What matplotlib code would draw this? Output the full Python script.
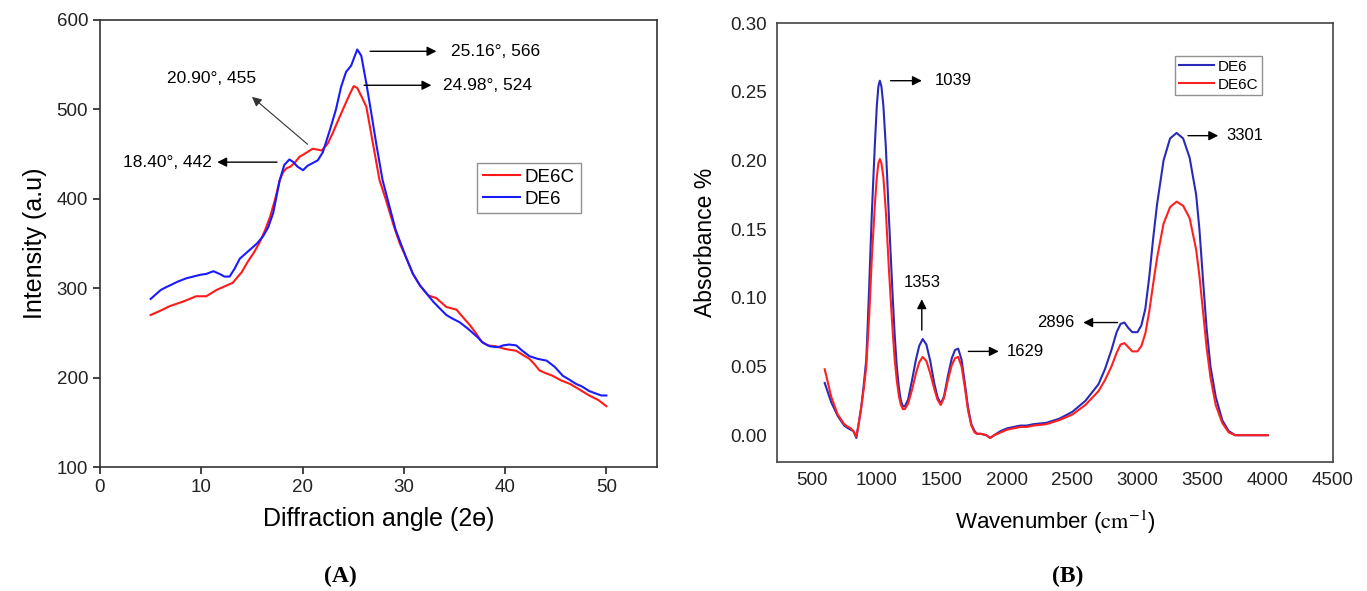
import matplotlib
matplotlib.use("Agg")
import matplotlib.pyplot as plt

plt.rcParams['font.family'] = ['Liberation Sans', 'DejaVu Sans']
plt.rcParams['mathtext.fontset'] = 'stix'

# ---------------- XRD data (panel A) ----------------
xrd_de6c_x = [5, 6, 6.9, 8.2, 9.5, 10.5, 11.5, 12.5, 13.1, 14,
              14.5, 15.2, 15.8, 16.3, 16.8, 17.3, 17.75, 18.1, 18.4, 18.8,
              19.2, 19.7, 20.3, 21.0, 21.5, 21.9, 22.5, 23.0, 23.6, 24.3,
              24.7, 25.05, 25.4, 25.8, 26.3, 26.9, 27.6, 28.2, 29.0, 29.6,
              30.2, 30.9, 31.6, 32.4, 33.2, 34.2, 35.2, 35.8, 36.5, 37.1,
              37.7, 38.3, 39.1, 40.0, 41.1, 41.8, 42.4, 42.9, 43.4, 44.0,
              44.7, 45.5, 46.4, 47.3, 48.3, 49.2, 50]
xrd_de6c_y = [270, 275, 280, 285, 291, 291, 298, 303, 306, 318,
              328, 340, 352, 365, 380, 400, 421, 430, 434, 436,
              440, 447, 451, 456, 455, 454, 462, 474, 490, 508,
              518, 526, 524, 515, 503, 465, 421, 400, 370, 350,
              335, 316, 303, 292, 289, 279, 276, 268, 259, 250,
              240, 236, 235, 232, 230, 225, 221, 215, 208, 205,
              202, 197, 193, 187, 180, 175, 168]

xrd_de6_x = [5, 5.5, 6, 6.5, 7.07, 7.6, 8.5, 9.2, 9.9, 10.5,
             11.2, 11.8, 12.3, 12.8, 13.3, 13.8, 14.5, 15.0, 15.5, 16.1,
             16.6, 17.1, 17.75, 18.2, 18.7, 19.1, 19.5, 20.05, 20.5, 21.0,
             21.5, 22.0, 22.7, 23.3, 23.8, 24.3, 24.8, 25.1, 25.4, 25.8,
             26.3, 26.8, 27.3, 27.9, 28.5, 29.2, 30.2, 30.9, 31.6, 32.4,
             32.9, 33.5, 34.2, 34.8, 35.5, 36.3, 36.8, 37.3, 37.8, 38.5,
             39.3, 39.8, 40.4, 41.1, 41.7, 42.4, 43.2, 44.1, 44.9, 45.7,
             46.3, 47.0, 47.6, 48.3, 49.0, 49.5, 50]
xrd_de6_y = [288, 293, 298, 301, 304, 307, 311, 313, 315, 316,
             319, 316, 313, 313, 322, 333, 340, 345, 350, 358,
             368, 384, 421, 438, 444, 441, 436, 432, 437, 440,
             443, 452, 477, 500, 525, 542, 549, 558, 567, 560,
             529, 495, 460, 421, 395, 365, 335, 316, 303, 292,
             285, 278, 270, 266, 262, 255, 250, 245, 239, 235,
             234, 236, 237, 236, 230, 224, 221, 219, 212, 202,
             198, 193, 190, 185, 182, 180, 180]

xrd_xticks = [0, 10, 20, 30, 40, 50]
xrd_yticks = [100, 200, 300, 400, 500, 600]

# ---------------- FTIR data (panel B) ----------------
ftir_wn = [600, 650, 700, 750, 780, 800, 820, 843, 860, 880,
           900, 919, 930, 942, 961, 985, 1000, 1012, 1023, 1035,
           1050, 1069, 1092, 1107, 1122, 1137, 1153, 1170, 1185, 1200,
           1215, 1240, 1270, 1300, 1325, 1352, 1380, 1410, 1440, 1465,
           1490, 1515, 1545, 1575, 1600, 1624, 1650, 1675, 1700, 1725,
           1750, 1770, 1800, 1840, 1870, 1900, 1950, 2000, 2050, 2100,
           2150, 2200, 2300, 2400, 2500, 2600, 2700, 2750, 2800, 2840,
           2870, 2900, 2930, 2960, 3000, 3030, 3060, 3090, 3120, 3150,
           3200, 3250, 3300, 3350, 3400, 3450, 3475, 3505, 3530, 3560,
           3600, 3650, 3700, 3750, 3800, 3900, 4000]
ftir_de6 = [.038, .024, .014, .007, .005, .004, .003, -.002, .008, .020,
            .037, .055, .080, .110, .160, .212, .240, .254, .258, .254,
            .240, .210, .160, .130, .100, .073, .050, .034, .025, .021,
            .021, .026, .040, .055, .065, .070, .066, .054, .038, .028,
            .023, .028, .043, .056, .062, .063, .055, .038, .020, .008,
            .003, .001, .001, .000, -.002, .000, .003, .005, .006, .007,
            .007, .008, .009, .012, .017, .025, .037, .048, .062, .075,
            .081, .082, .078, .075, .075, .080, .092, .115, .143, .168,
            .200, .216, .220, .216, .202, .175, .150, .110, .078, .050,
            .028, .011, .003, .000, .000, .000, .000]
ftir_de6c = [.048, .028, .015, .008, .006, .005, .003, -.001, .008, .020,
             .034, .050, .068, .088, .128, .168, .188, .198, .201, .198,
             .188, .163, .122, .098, .075, .055, .040, .028, .022, .019,
             .019, .023, .033, .045, .053, .057, .054, .045, .034, .026,
             .022, .027, .040, .051, .056, .057, .050, .035, .018, .007,
             .002, .001, .001, .000, -.002, .000, .002, .004, .005, .006,
             .006, .007, .008, .011, .015, .022, .032, .040, .050, .060,
             .066, .067, .064, .061, .061, .065, .074, .090, .110, .129,
             .154, .166, .170, .167, .158, .135, .116, .088, .064, .042,
             .022, .009, .002, .000, .000, .000, .000]

ftir_xticks = [500, 1000, 1500, 2000, 2500, 3000, 3500, 4000, 4500]
ftir_yticks = [0.00, 0.05, 0.10, 0.15, 0.20, 0.25, 0.30]

# ---------------- Figure ----------------
fig = plt.figure(figsize=(13.67, 5.91), dpi=100)
W, H = 1367, 591

def box(l, t, r, b):
    return [l / W, 1 - b / H, (r - l) / W, (b - t) / H]

axA = fig.add_axes(box(100, 20, 657, 467))
axB = fig.add_axes(box(777, 23, 1333, 462))

# Panel A
axA.plot(xrd_de6c_x, xrd_de6c_y, color='#ff1a1a', lw=1.5, label='DE6C')
axA.plot(xrd_de6_x, xrd_de6_y, color='#1a1aff', lw=1.5, label='DE6')
axA.set_xlim(0, 55)
axA.set_ylim(100, 600)
axA.set_xticks(xrd_xticks)
axA.set_yticks(xrd_yticks)
axA.tick_params(direction='out', length=5, width=1.2, labelsize=13.5, colors='#222222')
for s in axA.spines.values():
    s.set_linewidth(1.2)
    s.set_color('#333333')
axA.set_xlabel('Diffraction angle (2ɵ)', fontsize=18, labelpad=8)
axA.set_ylabel('Intensity (a.u)', fontsize=18, labelpad=7)
legA = axA.legend(loc='upper left', bbox_to_anchor=(0.677, 0.68), fontsize=13.5,
                  frameon=True, fancybox=False, handlelength=2.0,
                  borderpad=0.3, labelspacing=0.25, handletextpad=0.25, borderaxespad=0)
legA.get_frame().set_edgecolor('#777777')
legA.get_frame().set_linewidth(1.0)

arrow = dict(arrowstyle='-|>', color='black', lw=1.0, mutation_scale=14)
arrow_thin = dict(arrowstyle='-|>', color='#333333', lw=0.8, mutation_scale=14)
axA.annotate('', xy=(33.5, 565), xytext=(26.4, 565), arrowprops=arrow)
axA.text(34.7, 565, '25.16°, 566', fontsize=12.5, va='center', ha='left')
axA.annotate('', xy=(33.0, 527), xytext=(25.8, 527), arrowprops=arrow)
axA.text(33.9, 527, '24.98°, 524', fontsize=12.5, va='center', ha='left')
axA.annotate('', xy=(14.8, 516), xytext=(20.7, 459), arrowprops=arrow_thin)
axA.text(6.6, 535, '20.90°, 455', fontsize=12.5, va='center', ha='left')
axA.annotate('', xy=(11.3, 441), xytext=(17.75, 441), arrowprops=arrow)
axA.text(11.0, 441, '18.40°, 442', fontsize=12.5, va='center', ha='right')

# Panel B
axB.plot(ftir_wn, ftir_de6, color='#2a2ab8', lw=1.5, label='DE6')
axB.plot(ftir_wn, ftir_de6c, color='#ff2020', lw=1.5, label='DE6C')
axB.set_xlim(234, 4500)
axB.set_ylim(-0.0195, 0.30)
axB.set_xticks(ftir_xticks)
axB.set_yticks(ftir_yticks)
axB.set_yticklabels([f'{v:.2f}' for v in ftir_yticks])
axB.tick_params(length=0, labelsize=13.5, colors='#222222', pad=7)
for s in axB.spines.values():
    s.set_linewidth(1.2)
    s.set_color('#444444')
axB.set_xlabel('Wavenumber ($\\mathrm{cm^{-1}}$)', fontsize=16, labelpad=14)
axB.set_ylabel('Absorbance %', fontsize=16.5, labelpad=10)
legB = axB.legend(loc='upper left', bbox_to_anchor=(0.716, 0.925), fontsize=11,
                  frameon=True, fancybox=False, handlelength=2.3,
                  borderpad=0.25, labelspacing=0.25, handletextpad=0.25, borderaxespad=0)
legB.get_frame().set_edgecolor('#777777')
legB.get_frame().set_linewidth(1.0)

fs = 12
axB.annotate('', xy=(1367, 0.258), xytext=(1084, 0.258), arrowprops=arrow)
axB.text(1444, 0.258, '1039', fontsize=fs, va='center', ha='left')
axB.annotate('', xy=(3641, 0.218), xytext=(3366, 0.218), arrowprops=arrow)
axB.text(3680, 0.218, '3301', fontsize=fs, va='center', ha='left')
axB.annotate('', xy=(1345, 0.101), xytext=(1345, 0.0745), arrowprops=arrow)
axB.text(1345, 0.111, '1353', fontsize=fs, va='center', ha='center')
axB.annotate('', xy=(1957, 0.061), xytext=(1681, 0.061), arrowprops=arrow)
axB.text(1995, 0.061, '1629', fontsize=fs, va='center', ha='left')
axB.annotate('', xy=(2562, 0.082), xytext=(2868, 0.082), arrowprops=arrow)
axB.text(2516, 0.082, '2896', fontsize=fs, va='center', ha='right')

fig.text(340 / W, 1 - 576 / H, '(A)', fontsize=17, fontweight='bold',
         family=['Liberation Serif', 'DejaVu Serif'], ha='center', va='center')
fig.text(1068 / W, 1 - 576 / H, '(B)', fontsize=17, fontweight='bold',
         family=['Liberation Serif', 'DejaVu Serif'], ha='center', va='center')

fig.savefig('out.png', dpi=100)
